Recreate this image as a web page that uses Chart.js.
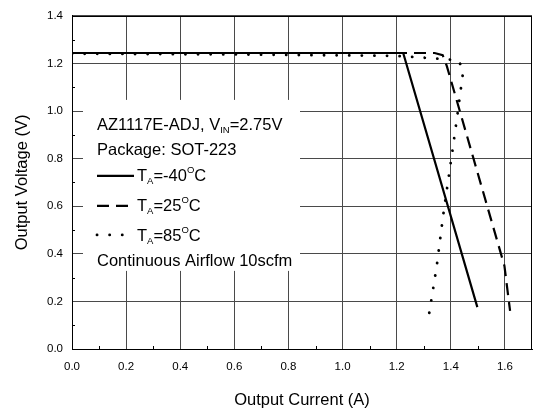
<!DOCTYPE html>
<html>
<head>
<meta charset="utf-8">
<script src="https://cdn.jsdelivr.net/npm/chart.js@4.4.0/dist/chart.umd.min.js"></script>
<style>
  body { margin: 0; background: #fff; }
</style>
</head>
<body>
<canvas id="chart" width="533" height="411"></canvas>
<script>
// Tick labels
const xTicks = [0, 0.2, 0.4, 0.6, 0.8, 1.0, 1.2, 1.4, 1.6];
const yTicks = [0, 0.2, 0.4, 0.6, 0.8, 1.0, 1.2, 1.4];
const xMinor = [0.1, 0.3, 0.5, 0.7, 0.9, 1.1, 1.3, 1.5];
const yMinor = [0.1, 0.3, 0.5, 0.7, 0.9, 1.1, 1.3];

// T_A = -40C (solid)
const coldX = [0, 1.224, 1.498];
const coldY = [1.244, 1.244, 0.176];

// T_A = 25C (dashed)
const roomX = [0, 1.34, 1.37, 1.385, 1.598, 1.619];
const roomY = [1.244, 1.244, 1.235, 1.19, 0.35, 0.16];

// T_A = 85C (dotted)
const hotX = [0, 0.6, 1.2, 1.33, 1.428, 1.446, 1.422, 1.40, 1.372, 1.348, 1.317];
const hotY = [1.241, 1.238, 1.232, 1.222, 1.214, 1.17, 0.965, 0.785, 0.564, 0.349, 0.128];

const FONT = '"Liberation Sans", Arial, sans-serif';
const DASH = [12, 7];
const DOTS = [0.1, 12.5];

function pts(xs, ys) {
    return xs.map((v, i) => ({ x: v, y: ys[i] }));
}

// text with sub/superscripts, parts: [text, 'sub'|'sup'|undefined]
function richText(ctx, x, y, parts) {
    parts.forEach(([t, mode]) => {
        let dy = 0;
        if (mode) {
            ctx.font = `9.5px ${FONT}`;
            dy = mode === 'sub' ? 3.5 : -8;
        } else {
            ctx.font = `16.5px ${FONT}`;
        }
        ctx.fillText(t, x, y + dy);
        x += ctx.measureText(t).width;
    });
}

function sample(ctx, x, y, dash, cap, width) {
    ctx.save();
    ctx.setLineDash(dash);
    ctx.lineCap = cap;
    ctx.lineWidth = width;
    ctx.beginPath();
    ctx.moveTo(x, y);
    ctx.lineTo(x + 37, y);
    ctx.stroke();
    ctx.restore();
}

// white legend box, minor ticks, frame
const frame = {
    id: 'frame',
    beforeDatasetsDraw(chart) {
        const { ctx, chartArea: a, scales: { x, y } } = chart;
        ctx.save();
        ctx.fillStyle = '#fff';
        ctx.fillRect(a.left + 11, a.top + 84, 217, 171);

        ctx.strokeStyle = '#000';
        ctx.lineWidth = 1;
        ctx.beginPath();
        xMinor.forEach(v => {
            const px = Math.round(x.getPixelForValue(v)) + 0.5;
            ctx.moveTo(px, a.bottom);
            ctx.lineTo(px, a.bottom - 3);
        });
        yMinor.forEach(v => {
            const py = Math.round(y.getPixelForValue(v)) + 0.5;
            ctx.moveTo(a.left, py);
            ctx.lineTo(a.left + 3, py);
        });
        ctx.stroke();
        ctx.strokeRect(Math.round(a.left) + 0.5, Math.round(a.top) + 0.5,
            Math.round(a.right - a.left) - 1, Math.round(a.bottom - a.top));

        // legend text
        const lx = a.left + 25;
        ctx.fillStyle = '#000';
        ctx.strokeStyle = '#000';
        ctx.textBaseline = 'alphabetic';
        ctx.textAlign = 'left';
        richText(ctx, lx, a.top + 114, [['AZ1117E-ADJ, V'], ['IN', 'sub'], ['=2.75V']]);
        richText(ctx, lx, a.top + 139, [['Package: SOT-223']]);

        sample(ctx, lx, a.top + 160, [], 'butt', 2.2);
        richText(ctx, lx + 40, a.top + 165, [['T'], ['A', 'sub'], ['=-40'], ['O', 'sup'], ['C']]);
        sample(ctx, lx, a.top + 190, DASH, 'butt', 2.2);
        richText(ctx, lx + 40, a.top + 195, [['T'], ['A', 'sub'], ['=25'], ['O', 'sup'], ['C']]);
        sample(ctx, lx, a.top + 219, DOTS, 'round', 2.8);
        richText(ctx, lx + 40, a.top + 225, [['T'], ['A', 'sub'], ['=85'], ['O', 'sup'], ['C']]);

        richText(ctx, lx, a.top + 250, [['Continuous Airflow 10scfm']]);
        ctx.restore();
    }
};

new Chart(document.getElementById('chart'), {
    type: 'scatter',
    data: {
        datasets: [
            { label: '-40', data: pts(coldX, coldY), showLine: true, pointRadius: 0,
              borderColor: '#000', borderWidth: 2.2 },
            { label: '25', data: pts(roomX, roomY), showLine: true, pointRadius: 0,
              borderColor: '#000', borderWidth: 2.2, borderDash: DASH },
            { label: '85', data: pts(hotX, hotY), showLine: true, pointRadius: 0,
              borderColor: '#000', borderWidth: 2.8, borderDash: DOTS, borderCapStyle: 'round' }
        ]
    },
    options: {
        responsive: false,
        animation: false,
        layout: { padding: { left: 0, right: 1, top: 12, bottom: 0 } },
        plugins: { legend: { display: false }, tooltip: { enabled: false } },
        scales: {
            x: {
                type: 'linear', min: 0, max: 1.7,
                afterBuildTicks: s => { s.ticks = xTicks.map(v => ({ value: v })); },
                afterFit: s => { s.height = 62; },
                ticks: { callback: v => v.toFixed(1), font: { family: FONT, size: 11.5 }, color: '#000',
                         padding: 11, maxRotation: 0, autoSkip: false },
                grid: { color: '#4a4a4a', lineWidth: 1, drawTicks: false },
                border: { color: '#000', width: 1 },
                title: { display: true, text: 'Output Current (A)', color: '#000',
                         font: { family: FONT, size: 16.5 }, padding: { top: 0, bottom: 0.4 } }
            },
            y: {
                type: 'linear', min: 0, max: 1.4,
                afterBuildTicks: s => { s.ticks = yTicks.map(v => ({ value: v })); },
                afterFit: s => { s.width = 72; },
                ticks: { callback: v => v.toFixed(1), font: { family: FONT, size: 11.5 }, color: '#000',
                         padding: 9, autoSkip: false },
                grid: { color: '#4a4a4a', lineWidth: 1, drawTicks: false },
                border: { color: '#000', width: 1 },
                title: { display: true, text: 'Output Voltage (V)', color: '#000',
                         font: { family: FONT, size: 16.5 }, padding: { top: 12.2, bottom: 0 } }
            }
        }
    },
    plugins: [frame]
});
</script>
</body>
</html>
